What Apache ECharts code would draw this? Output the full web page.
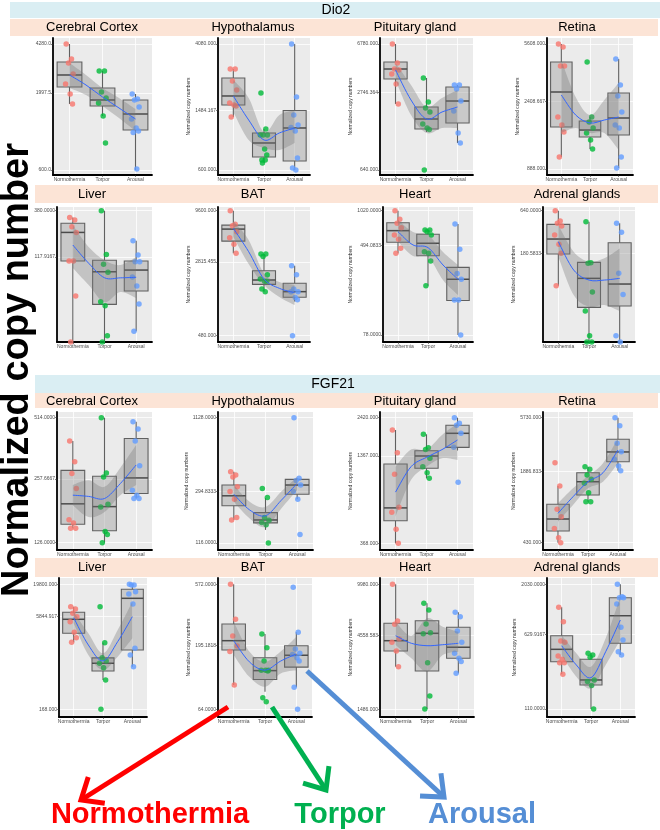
<!DOCTYPE html>
<html>
<head>
<meta charset="utf-8">
<script src="https://cdn.jsdelivr.net/npm/echarts@6/dist/echarts.min.js"></script>
<style>
html, body { margin: 0; padding: 0; background: #fff; }
#chart { width: 660px; height: 830px; }
</style>
</head>
<body>
<div id="chart"></div>
<script>
var groups = ['Normothermia', 'Torpor', 'Arousal'];
var tissues = ['Cerebral Cortex', 'Hypothalamus', 'Pituitary gland', 'Retina', 'Liver', 'BAT', 'Heart', 'Adrenal glands'];
var fitX = [1, 1.5, 2, 2.5, 3];

// ---- Dio2 ----
var dio2Ticks = [[4280, 1997.5, 600], [4080, 1484.167, 600], [6780, 2746.364, 640], [5608, 2408.667, 888],
    [380, 117.9167], [9600, 2815.455, 480], [1020, 494.0833, 78], [640, 180.5833]];
var dio2TickText = [['4280.0', '1997.5', '600.0'], ['4080.000', '1484.167', '600.000'], ['6780.000', '2746.364', '640.000'], ['5608.000', '2408.667', '888.000'],
    ['380.0000', '117.9167'], ['9600.000', '2815.455', '480.000'], ['1020.0000', '494.0833', '78.0000'], ['640.0000', '180.5833']];
var dio2Lim = [[555, 4700], [556, 4470], [583, 7586], [813, 6128], [13.5, 418], [413, 10490], [67.5, 1101], [13, 714]];
var dio2Normo = [
    [4280, 3390, 3180, 2680, 2290, 1960, 1680],
    [2790, 2790, 2324, 2027, 1663, 1613, 1589, 1344],
    [6780, 4749, 4244, 4170, 3864, 3205, 2204],
    [5608, 5365, 4055, 4055, 1911, 1699, 1532, 1060],
    [321, 300, 253, 219, 106, 106, 43.4, 0],
    [9600, 6929, 6700, 5803, 5028, 4292, 3458],
    [1020, 854, 786, 718, 617, 565, 469, 423],
    [640, 471, 440, 406, 311, 236, 180.6, 69.2]];
var dio2Torpor = [
    [2810, 2810, 2025, 1845, 1706, 1393, 914],
    [1936, 1120, 1022, 1022, 1022, 826, 754, 699, 699, 668],
    [3586, 2288, 2045, 1897, 1515, 1406, 1368, 640],
    [4300, 1911, 1776, 1625, 1510, 1362, 1193],
    [380, 125, 97.2, 79.3, 37.5, 33.9, 15.8, 0],
    [3401, 3401, 3212, 2071, 1869, 1770, 1770, 1470, 1380],
    [684, 684, 660, 617, 437, 423, 361, 216],
    [462, 137, 135, 57.2, 32.5, 15.6, 0, 0]];
var dio2Arousal = [
    [1963, 1816, 1788, 1602, 1329, 1155, 1102, 1077, 610],
    [4080, 1822, 1386, 1190, 1145, 1086, 720, 619, 600],
    [3146, 3146, 2918, 2331, 1933, 1280, 1061],
    [4496, 3064, 2605, 2058, 1699, 1625, 1060, 901],
    [177, 123, 104, 104, 70.4, 56, 35.4, 17.8],
    [2570, 2071, 1470, 1380, 1380, 1200, 1137, 480],
    [775, 459, 279, 247, 161, 161, 78],
    [440, 337, 99.7, 53.4, 15.6, 0]];
// box stats: [lower whisker, Q1, median, Q3, upper whisker]
var dio2BoxN = [[1680, 2189, 2640, 3232, 4280], [1344, 1613, 1850, 2433, 2790], [2204, 3520, 4244, 4840, 6780], [1060, 1650, 2764, 4300, 5608],
    [0, 106, 219, 276, 321], [3458, 4634, 6177, 6798, 9600], [423, 531, 675, 796, 1020], [69.2, 177, 276, 427, 640]];
var dio2BoxT = [[1393, 1628, 1788, 2155, 2810], [668, 731, 905, 1054, 1120], [1304, 1379, 1664, 2083, 3586], [1193, 1423, 1578, 1803, 1911],
    [0, 35.1, 80.5, 108, 380], [1380, 1644, 1824, 2279, 3401], [216, 402, 520, 626, 684], [0, 36.3, 85.9, 138, 462]];
var dio2BoxA = [[600, 1120, 1437, 1788, 1963], [600, 688, 1137, 1484, 4080], [1061, 1543, 2331, 3030, 3146], [901, 1466, 1884, 2723, 4496],
    [17.8, 49.3, 84.1, 106, 177], [1092, 1206, 1380, 1690, 2570], [78, 159, 247, 316, 775], [0, 37.8, 72.6, 247, 440]];
var dio2Fit = [[2640, 2258, 1873, 1578, 1329], [1850, 1284, 947, 1054, 1137], [4170, 2375, 1664, 1897, 2083], [2644, 1969, 1750, 1829, 1911],
    [159, 100, 69.1, 69, 70], [6296, 3594, 1868, 1495, 1345], [661, 502, 475, 332, 247], [255, 110, 81.7, 81.7, 85.9]];
var dio2FitLo = [[2155, 1932, 1628, 1350, 1102], [1450, 947, 839, 814, 905], [3453, 1793, 1280, 1406, 1406], [1510, 1625, 1510, 1510, 1175],
    [88.5, 57.4, 37.2, 48, 41.2], [5149, 2676, 1618, 1213, 1002], [537, 400, 394, 243, 178], [163, 52.3, 37, 38.9, 32.5]];
var dio2FitHi = [[3180, 2640, 2155, 1845, 1554], [2359, 1794, 1070, 1386, 1484], [4749, 3146, 2083, 2466, 2864], [4430, 2567, 1969, 2456, 3156],
    [264, 151, 108, 95.5, 117], [7502, 4757, 2141, 1739, 1618], [842, 657, 617, 434, 332], [418, 189, 141, 156, 209]];

// ---- FGF21 ----
var fgfTicks = [[514, 257.6667, 126], [1128, 294.8333, 116], [2420, 1367, 368], [5730, 1886.833, 430],
    [19800, 5844.917, 168], [572, 195.1818, 64], [9980, 4558.583, 1486], [2030, 629.9167, 110]];
var fgfTickText = [['514.0000', '257.6667', '126.0000'], ['1128.0000', '294.8333', '116.0000'], ['2420.000', '1367.000', '368.000'], ['5730.000', '1886.833', '430.000'],
    ['19800.000', '5844.917', '168.000'], ['572.0000', '195.1818', '64.0000'], ['9980.000', '4558.583', '1486.000'], ['2030.0000', '629.9167', '110.0000']];
var fgfLim = [[116, 548], [102, 1251], [333, 2636], [370, 6450], [125, 25190], [55.9, 639], [1321, 10986], [91.3, 2352]];
var fgfNormo = [
    [395, 313, 274, 232, 163, 157, 148, 148],
    [423, 398, 385, 322, 295, 257, 184, 176],
    [2012, 1432, 1036, 631, 586, 454, 368],
    [2256, 1392, 859, 737, 579, 477, 430],
    [8424, 7717, 6548, 5752, 4752, 3172, 2582, 2166],
    [572, 310, 231, 194, 176, 98],
    [9980, 5706, 5425, 4337, 4124, 3612, 2844],
    [1186, 847, 539, 525, 380, 352, 325, 325, 248]];
var fgfTorpor = [
    [514, 276, 264, 194, 188, 143, 138, 126],
    [312, 265, 184, 175, 168, 161, 116],
    [1887, 1543, 1500, 1316, 1161, 1061, 975],
    [2077, 1967, 1748, 1599, 1472, 1211, 1005, 1005],
    [8424, 2133, 1203, 1061, 973, 823, 514, 168],
    [239, 188, 149, 127, 127, 127, 125, 78.4, 73.1],
    [7472, 6745, 5450, 4774, 4690, 3022, 1820, 1490],
    [405, 389, 368, 217, 209, 191, 110]];
var fgfArousal = [
    [491, 452, 395, 299, 227, 215, 207, 207],
    [1128, 375, 360, 332, 295, 256, 135],
    [2420, 2225, 2160, 1915, 1552, 919],
    [5730, 4855, 3372, 2834, 2420, 2107, 1911],
    [19800, 19300, 19300, 14930, 13680, 9340, 1723, 1334, 854],
    [543, 247, 184, 171, 167, 158, 149, 94.1, 64],
    [6513, 6091, 4899, 4124, 3487, 3231, 3072, 2572],
    [2030, 1519, 1484, 1484, 1281, 743, 552, 420, 389]];
var fgfBoxN = [[148, 155, 195, 284, 395], [176, 228, 273, 332, 423], [368, 516, 626, 1209, 2012], [430, 548, 703, 953, 1392],
    [2166, 3052, 5209, 6804, 8424], [98, 181, 213, 285, 572], [2844, 3612, 4226, 5509, 9980], [248, 332, 444, 610, 1186]];
var fgfBoxT = [[126, 144, 189, 266, 514], [147, 167, 176, 201, 262], [975, 1133, 1363, 1476, 1887], [1005, 1155, 1522, 1834, 2077],
    [514, 725, 973, 1193, 2133], [87, 108, 126, 158, 239], [1490, 2664, 4730, 5732, 7472], [110, 193, 217, 352, 405]];
var fgfBoxA = [[207, 219, 261, 407, 491], [256, 281, 332, 368, 375], [1480, 1552, 1915, 2160, 2420], [1911, 2302, 2820, 3663, 5730],
    [854, 1614, 11600, 16360, 19800], [94.1, 134, 165, 195, 247], [2572, 3231, 3825, 5189, 6513], [389, 511, 974, 1484, 2030]];
var fgfFit = [[215, 212, 207, 245, 302], [281, 211, 190, 252, 342], [793, 1161, 1336, 1500, 1732], [791, 1115, 1522, 1834, 2935],
    [5536, 1954, 1061, 2216, 5752], [213, 147, 127, 149, 169], [4558, 4062, 3915, 3975, 4062], [483, 308, 229, 420, 881]];
var fgfFitLo = [[192, 168, 178, 215, 241], [245, 181, 155, 217, 303], [549, 951, 1161, 1316, 1283], [665, 939, 1327, 1522, 2228],
    [4471, 1334, 753, 1250, 2523], [166, 113, 95, 120, 127], [3957, 3231, 2636, 3399, 3574], [389, 234, 178, 308, 552]];
var fgfFitHi = [[241, 254, 236, 293, 378], [332, 245, 223, 295, 386], [1161, 1500, 1500, 1867, 2225], [973, 1327, 1712, 2228, 3740],
    [6960, 3052, 1423, 3462, 10190], [297, 176, 147, 176, 228], [5645, 4558, 5944, 5230, 4847], [620, 405, 296, 574, 1519]];

// layout: [left, right, top, bottom] of every plot panel
var panelBox = [
    [53, 152, 38, 175], [218, 310, 38, 175], [380, 473, 38, 175], [547, 633, 38, 175],
    [57, 152, 207, 342], [218, 310, 207, 342], [383, 473, 207, 342], [543, 635, 207, 342],
    [57, 152, 412, 550], [218, 313, 412, 550], [380, 473, 412, 550], [543, 633, 412, 550],
    [59, 147, 578, 717], [218, 312, 578, 717], [380, 474, 578, 717], [547, 635, 578, 717]];
var titleX = [92, 253, 415, 577];
var titleY = [27, 194, 401, 567];
var groupColors = ['#F8766D', '#00BA38', '#619CFF'];
var jitter = [-0.1, 0.06, -0.03, 0.11, -0.12, 0.02, 0.09, -0.07, 0.04, -0.05];

var genes = [
    {ticks: dio2Ticks, text: dio2TickText, lim: dio2Lim, pts: [dio2Normo, dio2Torpor, dio2Arousal],
        box: [dio2BoxN, dio2BoxT, dio2BoxA], fit: dio2Fit, lo: dio2FitLo, hi: dio2FitHi},
    {ticks: fgfTicks, text: fgfTickText, lim: fgfLim, pts: [fgfNormo, fgfTorpor, fgfArousal],
        box: [fgfBoxN, fgfBoxT, fgfBoxA], fit: fgfFit, lo: fgfFitLo, hi: fgfFitHi}
];

function lg(v, floor) {
    return v > 0 ? Math.log10(v) : floor;
}

function makeLabeler(ticks, text) {
    return function (v) {
        for (var i = 0; i < ticks.length; i++) {
            if (Math.abs(Math.log10(ticks[i]) - v) < 1e-6) return text[i];
        }
        return '';
    };
}

// catmull-rom spline through screen points, as svg path commands
function splinePath(P, start) {
    var f = function (p) { return p[0].toFixed(2) + ' ' + p[1].toFixed(2); };
    var d = (start ? 'M' : 'L') + f(P[0]);
    var n = P.length;
    for (var i = 0; i < n - 1; i++) {
        var p0 = P[Math.max(i - 1, 0)], p1 = P[i], p2 = P[i + 1], p3 = P[Math.min(i + 2, n - 1)];
        var c1 = [p1[0] + (p2[0] - p0[0]) / 6, p1[1] + (p2[1] - p0[1]) / 6];
        var c2 = [p2[0] - (p3[0] - p1[0]) / 6, p2[1] - (p3[1] - p1[1]) / 6];
        d += ' C' + f(c1) + ' ' + f(c2) + ' ' + f(p2);
    }
    return d;
}

function renderBox(params, api) {
    var x = api.value(0);
    var lo = api.coord([x, api.value(1)]);
    var q1 = api.coord([x, api.value(2)]);
    var md = api.coord([x, api.value(3)]);
    var q3 = api.coord([x, api.value(4)]);
    var hi = api.coord([x, api.value(5)]);
    var w = api.size([0.75, 0])[0];
    var cx = q1[0];
    var ls = {stroke: '#606060', lineWidth: 1.1};
    return {
        type: 'group',
        children: [
            {type: 'line', shape: {x1: cx, y1: hi[1], x2: cx, y2: q3[1]}, style: ls},
            {type: 'line', shape: {x1: cx, y1: q1[1], x2: cx, y2: lo[1]}, style: ls},
            {type: 'rect', shape: {x: cx - w / 2, y: q3[1], width: w, height: q1[1] - q3[1]},
                style: {fill: 'rgba(150,150,150,0.4)', stroke: '#606060', lineWidth: 1.1}},
            {type: 'line', shape: {x1: cx - w / 2, y1: md[1], x2: cx + w / 2, y2: md[1]},
                style: {stroke: '#4a4a4a', lineWidth: 1.5}}
        ]
    };
}

function makeSmooth(fit, lo, hi) {
    return function (params, api) {
        var up = [], down = [], mid = [];
        for (var i = 0; i < fitX.length; i++) {
            up.push(api.coord([fitX[i], Math.log10(hi[i])]));
            down.unshift(api.coord([fitX[i], Math.log10(lo[i])]));
            mid.push(api.coord([fitX[i], Math.log10(fit[i])]));
        }
        return {
            type: 'group',
            children: [
                {type: 'path', shape: {pathData: splinePath(up, true) + ' ' + splinePath(down, false) + ' Z'},
                    style: {fill: 'rgba(120,120,120,0.35)', stroke: null}},
                {type: 'path', shape: {pathData: splinePath(mid, true)},
                    style: {fill: null, stroke: '#3366FF', lineWidth: 1}}
            ]
        };
    };
}

var grid = [], xAxis = [], yAxis = [], series = [];
var graphic = [];

genes.forEach(function (g, gi) {
    for (var t = 0; t < 8; t++) {
        var p = gi * 8 + t;
        var b = panelBox[p];
        var floor = Math.log10(g.lim[t][0]);
        var tickLog = g.ticks[t].map(function (v) { return Math.log10(v); });

        grid.push({left: b[0], top: b[2], width: b[1] - b[0], height: b[3] - b[2],
            show: true, backgroundColor: '#EBEBEB', borderWidth: 0});
        xAxis.push({
            type: 'value', gridIndex: p, min: 0.5, max: 3.5,
            axisLine: {show: true, onZero: false, lineStyle: {color: '#000', width: 1.8}},
            axisTick: {show: true, customValues: [1, 2, 3], length: 2, lineStyle: {color: '#333', width: 0.6}},
            axisLabel: {customValues: [1, 2, 3], fontSize: 5, color: '#4d4d4d', margin: 2,
                formatter: function (v) { return groups[Math.round(v) - 1]; }},
            splitLine: {show: true, lineStyle: {color: '#fff', width: 0.8}}
        });
        yAxis.push({
            type: 'value', gridIndex: p, min: floor, max: Math.log10(g.lim[t][1]),
            name: t % 4 === 0 ? '' : 'Normalized copy numbers',
            nameLocation: 'middle', nameGap: 24,
            nameTextStyle: {fontSize: 5, color: '#333'},
            axisLine: {show: true, onZero: false, lineStyle: {color: '#000', width: 1.8}},
            axisTick: {show: true, customValues: tickLog, length: 2, lineStyle: {color: '#333', width: 0.6}},
            axisLabel: {customValues: tickLog, fontSize: 5, color: '#4d4d4d', margin: 2,
                formatter: makeLabeler(g.ticks[t], g.text[t])},
            splitLine: {show: true, lineStyle: {color: '#fff', width: 0.8}}
        });

        var boxData = [];
        var scat = [];
        for (var k = 0; k < 3; k++) {
            var s = g.box[k][t];
            boxData.push([k + 1, lg(s[0], floor), lg(s[1], floor), lg(s[2], floor), lg(s[3], floor), lg(s[4], floor)]);
            g.pts[k][t].forEach(function (v, j) {
                scat.push({value: [k + 1 + jitter[j % jitter.length], lg(v, floor)],
                    itemStyle: {color: groupColors[k]}});
            });
        }
        series.push({type: 'custom', xAxisIndex: p, yAxisIndex: p, renderItem: renderBox,
            data: boxData, encode: {x: 0, y: [1, 2, 3, 4, 5]}, z: 2, silent: true});
        series.push({type: 'scatter', xAxisIndex: p, yAxisIndex: p, data: scat,
            symbolSize: 5.5, z: 3, clip: false, silent: true});
        series.push({type: 'custom', xAxisIndex: p, yAxisIndex: p,
            renderItem: makeSmooth(g.fit[t], g.lo[t], g.hi[t]),
            data: [[2, Math.log10(g.fit[t][2])]], encode: {x: 0, y: 1}, z: 4, silent: true});

        var row = gi * 2 + Math.floor(t / 4);
        graphic.push({type: 'text', z: 10, style: {text: tissues[t], x: titleX[t % 4], y: titleY[row],
            textAlign: 'center', textVerticalAlign: 'middle', font: '13px "Liberation Sans", Arial', fill: '#000'}});
    }
});

// header bars and strips
graphic.unshift(
    {type: 'rect', shape: {x: 10, y: 2, width: 650, height: 16}, style: {fill: '#DAEEF3'}},
    {type: 'rect', shape: {x: 10, y: 19, width: 648, height: 17}, style: {fill: '#FCE4D6'}},
    {type: 'rect', shape: {x: 35, y: 185, width: 623, height: 18}, style: {fill: '#FCE4D6'}},
    {type: 'rect', shape: {x: 35, y: 375, width: 625, height: 18}, style: {fill: '#DAEEF3'}},
    {type: 'rect', shape: {x: 35, y: 393, width: 623, height: 15}, style: {fill: '#FCE4D6'}},
    {type: 'rect', shape: {x: 35, y: 558, width: 623, height: 19}, style: {fill: '#FCE4D6'}}
);
graphic.push(
    {type: 'text', style: {text: 'Dio2', x: 336, y: 10, textAlign: 'center', textVerticalAlign: 'middle',
        font: '14px "Liberation Sans", Arial', fill: '#000'}},
    {type: 'text', style: {text: 'FGF21', x: 333, y: 384, textAlign: 'center', textVerticalAlign: 'middle',
        font: '14px "Liberation Sans", Arial', fill: '#000'}},
    {type: 'text', x: 18, y: 370, rotation: Math.PI / 2, z: 10,
        style: {text: 'Normalized copy number', x: 0, y: 0, textAlign: 'center', textVerticalAlign: 'middle',
            font: 'bold 38px "Liberation Sans", Arial', fill: '#000'}}
);

// arrows to the legend words
function arrow(x1, y1, x2, y2, color) {
    var a = Math.atan2(y1 - y2, x1 - x2);
    var len = 24, s = 0.7;
    return [
        {type: 'polyline', z: 100, shape: {points: [[x1, y1], [x2, y2]]}, style: {stroke: color, lineWidth: 5}},
        {type: 'polyline', z: 100, shape: {points: [[x2 + len * Math.cos(a + s), y2 + len * Math.sin(a + s)], [x2, y2],
            [x2 + len * Math.cos(a - s), y2 + len * Math.sin(a - s)]]}, style: {stroke: color, lineWidth: 5, fill: null}}
    ];
}
graphic = graphic.concat(arrow(228, 707, 81, 800, '#FF0000'), arrow(272, 707, 326, 790, '#00B050'),
    arrow(307, 671, 444, 797, '#558ED5'));
graphic.push(
    {type: 'text', z: 100, style: {text: 'Normothermia', x: 150, y: 815, textAlign: 'center', textVerticalAlign: 'middle',
        font: 'bold 29px "Liberation Sans", Arial', fill: '#FF0000'}},
    {type: 'text', z: 100, style: {text: 'Torpor', x: 340, y: 815, textAlign: 'center', textVerticalAlign: 'middle',
        font: 'bold 29px "Liberation Sans", Arial', fill: '#00B050'}},
    {type: 'text', z: 100, style: {text: 'Arousal', x: 482, y: 815, textAlign: 'center', textVerticalAlign: 'middle',
        font: 'bold 29px "Liberation Sans", Arial', fill: '#558ED5'}}
);

var myChart = echarts.init(document.getElementById('chart'), null, {renderer: 'canvas'});
myChart.setOption({
    animation: false,
    backgroundColor: '#fff',
    grid: grid,
    xAxis: xAxis,
    yAxis: yAxis,
    series: series,
    graphic: graphic
});
</script>
</body>
</html>
